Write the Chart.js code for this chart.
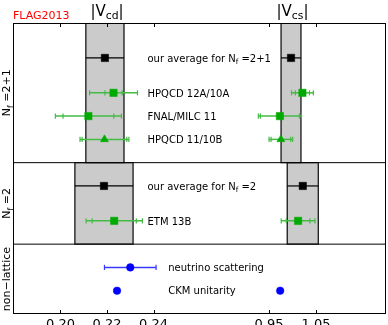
<!DOCTYPE html>
<html><head><meta charset="utf-8">
<script src="https://cdn.jsdelivr.net/npm/chart.js@4/dist/chart.umd.min.js"></script>
<style>html,body{margin:0;padding:0;background:#fff;} #wrap{width:388px;height:325px;position:relative;}</style>
</head><body><div id="wrap"><canvas id="c" width="388" height="325"></canvas></div>
<script>
// ---- data ----
const rowLabels = [
  [['our average for N'], ['f', 1], [' =2+1']],
  [['HPQCD 12A/10A']],
  [['FNAL/MILC 11']],
  [['HPQCD 11/10B']],
  [['our average for N'], ['f', 1], [' =2']],
  [['ETM 13B']],
  [['neutrino scattering']],
  [['CKM unitarity']]
];
const rowPos   = [1.5, 3, 4, 5, 7, 8.5, 10.5, 11.5];
const rowKind  = ['avg', 'lat', 'lat', 'lat', 'avg', 'lat', 'pheno', 'pheno'];
const rowShape = ['rect', 'rect', 'rect', 'triangle', 'rect', 'rect', 'circle', 'circle'];
const rowPanel = [0, 0, 0, 0, 1, 1, 2, 2];

const vcd     = [0.2191, 0.2228, 0.2120, 0.2189, 0.2187, 0.2231, 0.2300, 0.2243];
const vcdStat = [null, 0.0037, 0.0109, 0.0096, null, 0.0095, null, null];
const vcdTot  = [0.0082, 0.0103, 0.0142, 0.0105, 0.0125, 0.0121, 0.0111, null];

const vcs     = [0.9968, 1.0211, 0.9731, 0.9752, 1.0219, 1.0119, null, 0.9737];
const vcsStat = [null, 0.0150, 0.0416, 0.0209, null, 0.0252, null, null];
const vcsTot  = [0.0212, 0.0233, 0.0460, 0.0252, 0.0331, 0.0360, null, null];

const panelEdges = [0, 6, 9.5, 12.5];
const panelNames = [
  [['N'], ['f', 1], [' =2+1']],
  [['N'], ['f', 1], [' =2']],
  [['non\u2212lattice']]
];
const vcdTicks = [0.20, 0.22, 0.24];
const vcsTicks = [0.95, 1.05];
const vcdTickLabels = ['0.20', '0.22', '0.24'];
const vcsTickLabels = ['0.95', '1.05'];

// ---- axis ranges ----
const CD_MIN = 0.1796, CD_MAX = 0.3399;
const CS_MIN = 0.4041, CS_MAX = 1.1993;
const Y_MIN = 0, Y_MAX = 12.5;

const FONT = "'DejaVu Sans', sans-serif";
const COLORS = {
  avg:   { line: '#000000', mark: '#000000' },
  lat:   { line: '#44bb44', mark: '#00aa00' },
  pheno: { line: '#3838ff', mark: '#0000ff' }
};

// combined tick list on the visible (Vcd) axis
const cs2cd = v => CD_MIN + (v - CS_MIN) / (CS_MAX - CS_MIN) * (CD_MAX - CD_MIN);
const tickVals = vcdTicks.concat(vcsTicks.map(cs2cd));
const tickLabs = vcdTickLabels.concat(vcsTickLabels);

const datasets = [];
function addRowSeries(axis, vals, stat, tot) {
  vals.forEach((v, i) => {
    if (v === null) return;
    const y = rowPos[i];
    const kind = rowKind[i];
    const col = COLORS[kind];
    if (kind === 'avg' && tot[i] !== null) {
      const p = rowPanel[i];
      const y0 = panelEdges[p], y1 = panelEdges[p + 1];
      const lo = v - tot[i], hi = v + tot[i];
      datasets.push({
        xAxisID: axis, yAxisID: 'y', order: 20,
        data: [{x: lo, y: y0}, {x: hi, y: y0}, {x: hi, y: y1}, {x: lo, y: y1}, {x: lo, y: y0}],
        fill: 'shape', backgroundColor: '#cbcbcb', borderColor: '#262626', borderWidth: 1.4,
        pointRadius: 0, tension: 0
      });
    }
    if (tot[i] !== null) {
      datasets.push({
        xAxisID: axis, yAxisID: 'y', order: 6,
        data: [{x: v - tot[i], y}, {x: v + tot[i], y}],
        borderColor: col.line, borderWidth: kind === 'avg' ? 1.2 : 1.5, pointRadius: 0, fill: false
      });
      if (kind !== 'avg') {
        const caps = [{x: v - tot[i], y}, {x: v + tot[i], y}];
        if (stat[i] !== null) caps.push({x: v - stat[i], y}, {x: v + stat[i], y});
        datasets.push({
          xAxisID: axis, yAxisID: 'y', order: 5, showLine: false,
          data: caps, pointStyle: 'line', pointRotation: 90, pointRadius: 2.6,
          pointBorderColor: col.line, pointBorderWidth: 1.2
        });
      }
    }
    const shape = rowShape[i];
    datasets.push({
      xAxisID: axis, yAxisID: 'y', order: 1, showLine: false,
      data: [{x: v, y}], pointStyle: shape,
      pointRadius: shape === 'rect' ? 5.2 : (shape === 'triangle' ? 4.6 : 3.8),
      pointBackgroundColor: col.mark, pointBorderColor: col.mark, pointBorderWidth: 0.5
    });
  });
}
addRowSeries('xcd', vcd, vcdStat, vcdTot);
addRowSeries('xcs', vcs, vcsStat, vcsTot);
// panel separators
panelEdges.slice(1, -1).forEach(e => {
  datasets.push({
    xAxisID: 'xcd', yAxisID: 'y', order: 3,
    data: [{x: CD_MIN, y: e}, {x: CD_MAX, y: e}],
    borderColor: '#000', borderWidth: 1, pointRadius: 0, fill: false
  });
});

function drawParts(ctx, parts, x, y, size, align) {
  const subSize = size * 0.72;
  let w = 0;
  parts.forEach(p => { ctx.font = (p[1] ? subSize : size) + 'px ' + FONT; w += ctx.measureText(p[0]).width; });
  let cx = align === 'center' ? x - w / 2 : x;
  ctx.textAlign = 'left';
  ctx.textBaseline = 'alphabetic';
  parts.forEach(p => {
    const s = p[1] ? subSize : size;
    ctx.font = s + 'px ' + FONT;
    ctx.fillText(p[0], cx, p[1] ? y + size * 0.25 : y);
    cx += ctx.measureText(p[0]).width;
  });
}

const decor = {
  id: 'decor',
  afterDraw(chart) {
    const ctx = chart.ctx, a = chart.chartArea;
    const xcd = chart.scales.xcd, xcs = chart.scales.xcs, ys = chart.scales.y;
    ctx.save();
    // frame
    ctx.strokeStyle = '#000'; ctx.lineWidth = 1;
    ctx.strokeRect(Math.round(a.left) + 0.5, Math.round(a.top) + 0.5, Math.round(a.right - a.left) - 1, Math.round(a.bottom - a.top) - 1);
    // inward ticks top & bottom
    tickVals.forEach(v => {
      const px = Math.round(xcd.getPixelForValue(v)) + 0.5;
      ctx.beginPath();
      ctx.moveTo(px, a.top); ctx.lineTo(px, a.top + 4);
      ctx.moveTo(px, a.bottom); ctx.lineTo(px, a.bottom - 4);
      ctx.stroke();
    });
    // row labels
    ctx.fillStyle = '#000';
    rowLabels.forEach((parts, i) => {
      const x = xcd.getPixelForValue(rowKind[i] === 'pheno' ? 0.2463 : 0.2374);
      const y = ys.getPixelForValue(rowPos[i]) + 3.7;
      drawParts(ctx, parts, x, y, 10, 'left');
    });
    // column titles
    drawParts(ctx, [['|V'], ['cd', 1], ['|']], xcd.getPixelForValue(0.22), 15.5, 15, 'center');
    drawParts(ctx, [['|V'], ['cs', 1], ['|']], xcs.getPixelForValue(1.0), 15.5, 15, 'center');
    // FLAG tag
    ctx.fillStyle = '#ff0000';
    drawParts(ctx, [['FLAG2013']], a.left, 18.5, 11, 'left');
    // panel names (rotated)
    ctx.fillStyle = '#000';
    panelNames.forEach((parts, k) => {
      const yc = (ys.getPixelForValue(panelEdges[k]) + ys.getPixelForValue(panelEdges[k + 1])) / 2;
      ctx.save();
      ctx.translate(10, yc);
      ctx.rotate(-Math.PI / 2);
      drawParts(ctx, parts, 0, 0, 11, 'center');
      ctx.restore();
    });
    ctx.restore();
  }
};

new Chart(document.getElementById('c'), {
  type: 'line',
  data: { datasets },
  options: {
    responsive: false, animation: false,
    layout: { autoPadding: false, padding: { left: 13, right: 2, top: 23, bottom: -10 } },
    plugins: { legend: { display: false }, tooltip: { enabled: false } },
    events: [],
    scales: {
      xcd: {
        type: 'linear', position: 'bottom', min: CD_MIN, max: CD_MAX,
        grid: { display: false, drawTicks: false }, border: { display: false },
        afterBuildTicks: s => { s.ticks = tickVals.map(v => ({ value: v })); },
        ticks: {
          autoSkip: false, maxRotation: 0, padding: 7, color: '#000',
          font: { family: FONT, size: 13, lineHeight: 0.54 },
          callback: (v, i) => tickLabs[i]
        }
      },
      xcs: { type: 'linear', position: 'bottom', display: false, min: CS_MIN, max: CS_MAX },
      y: { type: 'linear', display: false, min: Y_MIN, max: Y_MAX, reverse: true }
    }
  },
  plugins: [decor]
});
</script>
</body></html>
